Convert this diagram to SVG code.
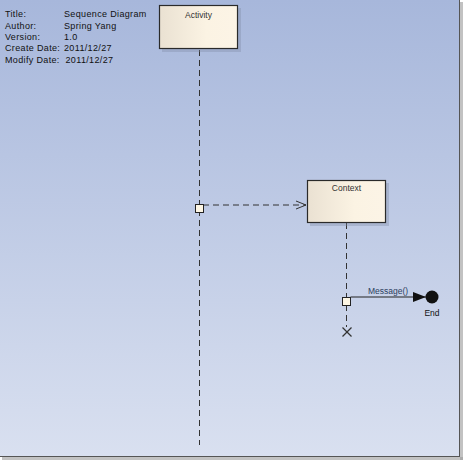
<svg xmlns="http://www.w3.org/2000/svg" width="464" height="460" viewBox="0 0 464 460">
<defs>
<linearGradient id="bg" x1="0" y1="0" x2="0" y2="1">
<stop offset="0" stop-color="#a7b7db"/>
<stop offset="1" stop-color="#d9e0f0"/>
</linearGradient>
<linearGradient id="nodefill" x1="0" y1="0" x2="1" y2="0">
<stop offset="0" stop-color="#eae1d2"/>
<stop offset="0.6" stop-color="#fbf3e3"/>
<stop offset="1" stop-color="#fcf4e6"/>
</linearGradient>
<marker id="open" markerWidth="12" markerHeight="10" refX="11" refY="5" orient="auto" markerUnits="userSpaceOnUse">
<path d="M1,1 L11,5 L1,9" fill="none" stroke="#333" stroke-width="1"/>
</marker>
<marker id="filled" markerWidth="14" markerHeight="10" refX="13" refY="5" orient="auto" markerUnits="userSpaceOnUse">
<path d="M0,0 L13,5 L0,10 Z" fill="#111"/>
</marker>
</defs>
<style>
.t{font-family:"Liberation Sans",Arial,sans-serif;font-size:9px;letter-spacing:0.35px;fill:#111}
.n{font-family:"Liberation Sans",Arial,sans-serif;font-size:8.5px;fill:#333;text-anchor:middle}
.box{fill:url(#nodefill);stroke:#2a2a2a;stroke-width:1.2}
.shadow{fill:#7f8aa3;opacity:0.35}
.life{stroke:#333;stroke-width:1;stroke-dasharray:6,4;fill:none}
.act{fill:#fdf6e4;stroke:#222;stroke-width:1}
</style>
<rect x="0" y="0" width="464" height="460" fill="#ffffff"/>
<rect x="0" y="0" width="460" height="456" fill="url(#bg)"/>
<line x1="459.5" y1="0" x2="459.5" y2="456.5" stroke="#555" stroke-width="1"/>
<line x1="0" y1="456.5" x2="460" y2="456.5" stroke="#555" stroke-width="1"/>
<rect x="460" y="2" width="3" height="458" fill="#9a9a9a" opacity="0.6"/>
<rect x="2" y="457" width="461" height="3" fill="#9a9a9a" opacity="0.6"/>

<g id="info">
<text class="t" x="5" y="17">Title:</text>
<text class="t" x="64" y="17">Sequence Diagram</text>
<text class="t" x="5" y="28.5">Author:</text>
<text class="t" x="64" y="28.5">Spring Yang</text>
<text class="t" x="5" y="40">Version:</text>
<text class="t" x="64" y="40">1.0</text>
<text class="t" x="5" y="51">Create Date:</text>
<text class="t" x="64" y="51">2011/12/27</text>
<text class="t" x="5" y="62.5">Modify Date:</text>
<text class="t" x="65.5" y="62.5">2011/12/27</text>
</g>

<g id="connectors">
<line class="life" x1="199.5" y1="50" x2="199.5" y2="445"/>
<line class="life" x1="346.5" y1="223" x2="346.5" y2="297"/>
<line class="life" x1="346.5" y1="305" x2="346.5" y2="327"/>
<line x1="203" y1="205" x2="306" y2="205" stroke="#333" stroke-width="1" stroke-dasharray="6,4" marker-end="url(#open)"/>
<line x1="350.5" y1="297" x2="426" y2="297" stroke="#222" stroke-width="1.2" marker-end="url(#filled)"/>
<text x="388" y="294" font-family="'Liberation Sans',Arial,sans-serif" font-size="8.5" fill="#2c3e5e" text-anchor="middle">Message()</text>
</g>

<g id="activity">
<rect class="shadow" x="162" y="8" width="79" height="44"/>
<rect class="box" x="159.5" y="5.5" width="78" height="43"/>
<text class="n" x="198.5" y="17.5">Activity</text>
</g>

<g id="context">
<rect class="shadow" x="310" y="183" width="79" height="43"/>
<rect class="box" x="307.5" y="180.5" width="78" height="42"/>
<text class="n" x="346.5" y="191">Context</text>
</g>

<g id="activation1">
<rect class="act" x="195.5" y="204.5" width="8" height="8"/>
</g>
<g id="activation2">
<rect class="act" x="342.5" y="297.5" width="8" height="8"/>
</g>

<g id="end">
<circle cx="432" cy="297" r="6.5" fill="#111"/>
<text x="432" y="316" font-family="'Liberation Sans',Arial,sans-serif" font-size="8.5" fill="#111" text-anchor="middle">End</text>
</g>

<g id="destroy">
<line x1="342.5" y1="327.5" x2="351.5" y2="336.5" stroke="#333" stroke-width="1.2"/>
<line x1="351.5" y1="327.5" x2="342.5" y2="336.5" stroke="#333" stroke-width="1.2"/>
</g>
</svg>
